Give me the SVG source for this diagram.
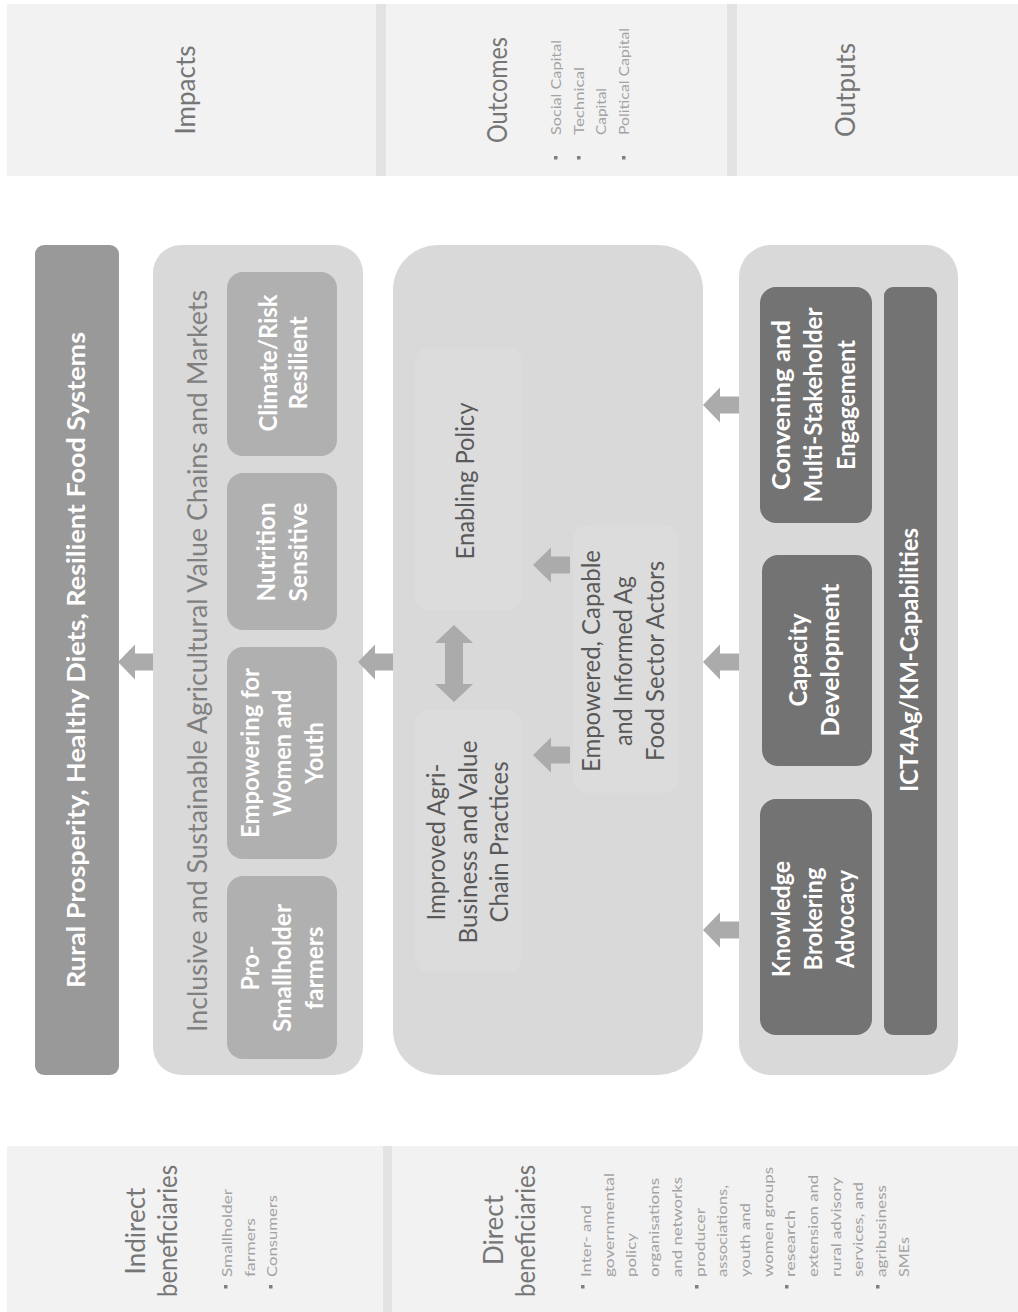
<svg xmlns="http://www.w3.org/2000/svg" width="1018" height="1312" viewBox="0 0 1018 1312">
<style>
text{font-family:Lato,"Open Sans","Liberation Sans",sans-serif}
.band{fill:#f2f2f2}
.div{fill:#e3e3e3}
.hdr{font-size:26px;fill:#767676;font-weight:400;text-anchor:middle}
.blt{font-size:13.5px;fill:#a3a3a3;font-weight:400;text-anchor:start}
.bul{fill:#7f7f7f}
.light{fill:#d9d9d9}
.med{fill:#b0b0b0}
.dark{fill:#737373}
.faint{fill:#dcdcdc}
.wb{font-size:25px;font-weight:bold;fill:#ffffff;text-anchor:middle}
.mt{font-size:25px;fill:#595959;text-anchor:middle}
.arr{fill:#ababab}
</style>
<g id="header-band">
<rect class="band" x="7" y="4" width="1011" height="172"/>
<rect class="div" x="376" y="4" width="10" height="172"/>
<rect class="div" x="727" y="4" width="10" height="172"/>
<text class="hdr" transform="translate(195,90) rotate(-90)">Impacts</text>
<text class="hdr" transform="translate(507,90) rotate(-90)" textLength="106" lengthAdjust="spacingAndGlyphs">Outcomes</text>
<text class="hdr" transform="translate(855,90) rotate(-90)">Outputs</text>
<rect class="bul" x="554" y="156" width="3.5" height="3.5"/>
<rect class="bul" x="577" y="156" width="3.5" height="3.5"/>
<rect class="bul" x="622" y="156" width="3.5" height="3.5"/>
<text class="blt" transform="translate(561,135) rotate(-90)" textLength="95" lengthAdjust="spacingAndGlyphs">Social Capital</text>
<text class="blt" transform="translate(583.5,135) rotate(-90)" textLength="68" lengthAdjust="spacingAndGlyphs">Technical</text>
<text class="blt" transform="translate(606,135) rotate(-90)" textLength="47" lengthAdjust="spacingAndGlyphs">Capital</text>
<text class="blt" transform="translate(628.5,135) rotate(-90)" textLength="107" lengthAdjust="spacingAndGlyphs">Political Capital</text>
</g>
<g id="beneficiaries-band">
<rect class="band" x="7" y="1146" width="1011" height="166"/>
<rect class="div" x="383" y="1146" width="9" height="166"/>
<text class="hdr" transform="translate(145,1231) rotate(-90)">Indirect</text>
<text class="hdr" transform="translate(177,1231) rotate(-90)" textLength="132" lengthAdjust="spacingAndGlyphs">beneficiaries</text>
<rect class="bul" x="224" y="1285" width="3.5" height="3.5"/>
<rect class="bul" x="269" y="1285" width="3.5" height="3.5"/>
<text class="blt" transform="translate(232,1277) rotate(-90)" textLength="88" lengthAdjust="spacingAndGlyphs">Smallholder</text>
<text class="blt" transform="translate(254.5,1277) rotate(-90)" textLength="59" lengthAdjust="spacingAndGlyphs">farmers</text>
<text class="blt" transform="translate(277,1277) rotate(-90)" textLength="82" lengthAdjust="spacingAndGlyphs">Consumers</text>
<text class="hdr" transform="translate(503,1230) rotate(-90)">Direct</text>
<text class="hdr" transform="translate(535,1231) rotate(-90)" textLength="132" lengthAdjust="spacingAndGlyphs">beneficiaries</text>
<rect class="bul" x="581" y="1285" width="3.5" height="3.5"/>
<rect class="bul" x="695" y="1285" width="3.5" height="3.5"/>
<rect class="bul" x="785" y="1285" width="3.5" height="3.5"/>
<rect class="bul" x="876" y="1285" width="3.5" height="3.5"/>
<text class="blt" transform="translate(591,1277) rotate(-90)" textLength="72" lengthAdjust="spacingAndGlyphs">Inter- and</text>
<text class="blt" transform="translate(613.7,1277) rotate(-90)" textLength="104" lengthAdjust="spacingAndGlyphs">governmental</text>
<text class="blt" transform="translate(636.4,1277) rotate(-90)" textLength="44" lengthAdjust="spacingAndGlyphs">policy</text>
<text class="blt" transform="translate(659.1,1277) rotate(-90)" textLength="99" lengthAdjust="spacingAndGlyphs">organisations</text>
<text class="blt" transform="translate(681.8,1277) rotate(-90)" textLength="100" lengthAdjust="spacingAndGlyphs">and networks</text>
<text class="blt" transform="translate(704.5,1277) rotate(-90)" textLength="69" lengthAdjust="spacingAndGlyphs">producer</text>
<text class="blt" transform="translate(727.2,1277) rotate(-90)" textLength="92" lengthAdjust="spacingAndGlyphs">associations,</text>
<text class="blt" transform="translate(749.9,1277) rotate(-90)" textLength="74" lengthAdjust="spacingAndGlyphs">youth and</text>
<text class="blt" transform="translate(772.6,1277) rotate(-90)" textLength="110" lengthAdjust="spacingAndGlyphs">women groups</text>
<text class="blt" transform="translate(795.3,1277) rotate(-90)" textLength="67" lengthAdjust="spacingAndGlyphs">research</text>
<text class="blt" transform="translate(818,1277) rotate(-90)" textLength="102" lengthAdjust="spacingAndGlyphs">extension and</text>
<text class="blt" transform="translate(840.7,1277) rotate(-90)" textLength="100" lengthAdjust="spacingAndGlyphs">rural advisory</text>
<text class="blt" transform="translate(863.4,1277) rotate(-90)" textLength="95" lengthAdjust="spacingAndGlyphs">services, and</text>
<text class="blt" transform="translate(886.1,1277) rotate(-90)" textLength="92" lengthAdjust="spacingAndGlyphs">agribusiness</text>
<text class="blt" transform="translate(908.8,1277) rotate(-90)" textLength="40" lengthAdjust="spacingAndGlyphs">SMEs</text>
</g>
<g id="impact">
<rect x="35" y="245" width="84" height="830" rx="9" fill="#999999"/>
<text class="wb" transform="translate(85,660) rotate(-90)" textLength="656" lengthAdjust="spacingAndGlyphs">Rural Prosperity, Healthy Diets, Resilient Food Systems</text>
</g>
<g id="value-chains">
<rect class="light" x="153" y="245" width="210" height="830" rx="28"/>
<text transform="translate(207,661) rotate(-90)" font-size="27" fill="#808080" text-anchor="middle" textLength="742" lengthAdjust="spacingAndGlyphs">Inclusive and Sustainable Agricultural Value Chains and Markets</text>
</g>
<g id="climate">
<rect class="med" x="227" y="272" width="110" height="184" rx="16"/>
<text class="wb" transform="translate(277,363) rotate(-90)" textLength="137" lengthAdjust="spacingAndGlyphs">Climate/Risk</text>
<text class="wb" transform="translate(307,363) rotate(-90)" textLength="93" lengthAdjust="spacingAndGlyphs">Resilient</text>
</g>
<g id="nutrition">
<rect class="med" x="227" y="473" width="110" height="157" rx="16"/>
<text class="wb" transform="translate(275,552) rotate(-90)" textLength="99" lengthAdjust="spacingAndGlyphs">Nutrition</text>
<text class="wb" transform="translate(307,552) rotate(-90)" textLength="99" lengthAdjust="spacingAndGlyphs">Sensitive</text>
</g>
<g id="women-youth">
<rect class="med" x="227" y="647" width="110" height="212" rx="16"/>
<text class="wb" transform="translate(259,753) rotate(-90)" textLength="170" lengthAdjust="spacingAndGlyphs">Empowering for</text>
<text class="wb" transform="translate(291,753) rotate(-90)" textLength="127" lengthAdjust="spacingAndGlyphs">Women and</text>
<text class="wb" transform="translate(323,753) rotate(-90)" textLength="62" lengthAdjust="spacingAndGlyphs">Youth</text>
</g>
<g id="smallholder">
<rect class="med" x="227" y="876" width="110" height="183" rx="16"/>
<text class="wb" transform="translate(259,968) rotate(-90)" textLength="45" lengthAdjust="spacingAndGlyphs">Pro-</text>
<text class="wb" transform="translate(291,968) rotate(-90)" textLength="128" lengthAdjust="spacingAndGlyphs">Smallholder</text>
<text class="wb" transform="translate(323,968) rotate(-90)" textLength="83" lengthAdjust="spacingAndGlyphs">farmers</text>
</g>
<g id="outcomes-box">
<rect class="light" x="393" y="245" width="310" height="830" rx="45"/>
</g>
<g id="enabling-policy">
<rect class="faint" x="415" y="348" width="107" height="262" rx="14"/>
<text class="mt" transform="translate(474,481) rotate(-90)" textLength="157" lengthAdjust="spacingAndGlyphs">Enabling Policy</text>
</g>
<g id="agribusiness">
<rect class="faint" x="415" y="710" width="107" height="262" rx="14"/>
<text class="mt" transform="translate(445,842) rotate(-90)" textLength="157" lengthAdjust="spacingAndGlyphs">Improved Agri-</text>
<text class="mt" transform="translate(477,842) rotate(-90)" textLength="203" lengthAdjust="spacingAndGlyphs">Business and Value</text>
<text class="mt" transform="translate(508,842) rotate(-90)" textLength="161" lengthAdjust="spacingAndGlyphs">Chain Practices</text>
</g>
<g id="actors">
<rect class="faint" x="573" y="525" width="105" height="268" rx="14"/>
<text class="mt" transform="translate(600,661) rotate(-90)" textLength="222" lengthAdjust="spacingAndGlyphs">Empowered, Capable</text>
<text class="mt" transform="translate(632,661) rotate(-90)" textLength="170" lengthAdjust="spacingAndGlyphs">and Informed Ag</text>
<text class="mt" transform="translate(664,661) rotate(-90)" textLength="200" lengthAdjust="spacingAndGlyphs">Food Sector Actors</text>
</g>
<g id="outputs-box">
<rect class="light" x="739" y="245" width="219" height="830" rx="32"/>
</g>
<g id="convening">
<rect class="dark" x="760" y="287" width="112" height="236" rx="16"/>
<text class="wb" transform="translate(790,405) rotate(-90)" textLength="170" lengthAdjust="spacingAndGlyphs">Convening and</text>
<text class="wb" transform="translate(822,405) rotate(-90)" textLength="195" lengthAdjust="spacingAndGlyphs">Multi-Stakeholder</text>
<text class="wb" transform="translate(855,405) rotate(-90)" textLength="130" lengthAdjust="spacingAndGlyphs">Engagement</text>
</g>
<g id="capacity">
<rect class="dark" x="762" y="555" width="110" height="211" rx="16"/>
<text class="wb" transform="translate(807,660) rotate(-90)" textLength="93" lengthAdjust="spacingAndGlyphs">Capacity</text>
<text class="wb" transform="translate(839,660) rotate(-90)" textLength="153" lengthAdjust="spacingAndGlyphs">Development</text>
</g>
<g id="knowledge">
<rect class="dark" x="760" y="799" width="112" height="236" rx="16"/>
<text class="wb" transform="translate(790,919) rotate(-90)" textLength="116" lengthAdjust="spacingAndGlyphs">Knowledge</text>
<text class="wb" transform="translate(822,919) rotate(-90)" textLength="103" lengthAdjust="spacingAndGlyphs">Brokering</text>
<text class="wb" transform="translate(854,919) rotate(-90)" textLength="98" lengthAdjust="spacingAndGlyphs">Advocacy</text>
</g>
<g id="ict4ag">
<rect class="dark" x="884" y="287" width="53" height="748" rx="9"/>
<text class="wb" transform="translate(918,660) rotate(-90)" textLength="264" lengthAdjust="spacingAndGlyphs">ICT4Ag/KM-Capabilities</text>
</g>
<g id="connectors">
<polygon class="arr" points="118,662 135,644.5 135,653.5 153,653.5 153,670.5 135,670.5 135,679.5"/>
<polygon class="arr" points="358,662 375,644.5 375,653.5 393,653.5 393,670.5 375,670.5 375,679.5"/>
<polygon class="arr" points="703,405 720,387.5 720,396.5 739,396.5 739,413.5 720,413.5 720,422.5"/>
<polygon class="arr" points="703,662 720,644.5 720,653.5 739,653.5 739,670.5 720,670.5 720,679.5"/>
<polygon class="arr" points="703,930 720,912.5 720,921.5 739,921.5 739,938.5 720,938.5 720,947.5"/>
<polygon class="arr" points="533,565 551,547.5 551,556.5 570,556.5 570,573.5 551,573.5 551,582.5"/>
<polygon class="arr" points="533,755 551,737.5 551,746.5 570,746.5 570,763.5 551,763.5 551,772.5"/>
<polygon class="arr" points="454,625 473,643 463,643 463,684 473,684 454,702 435,684 445,684 445,643 435,643"/>
</g>
</svg>
